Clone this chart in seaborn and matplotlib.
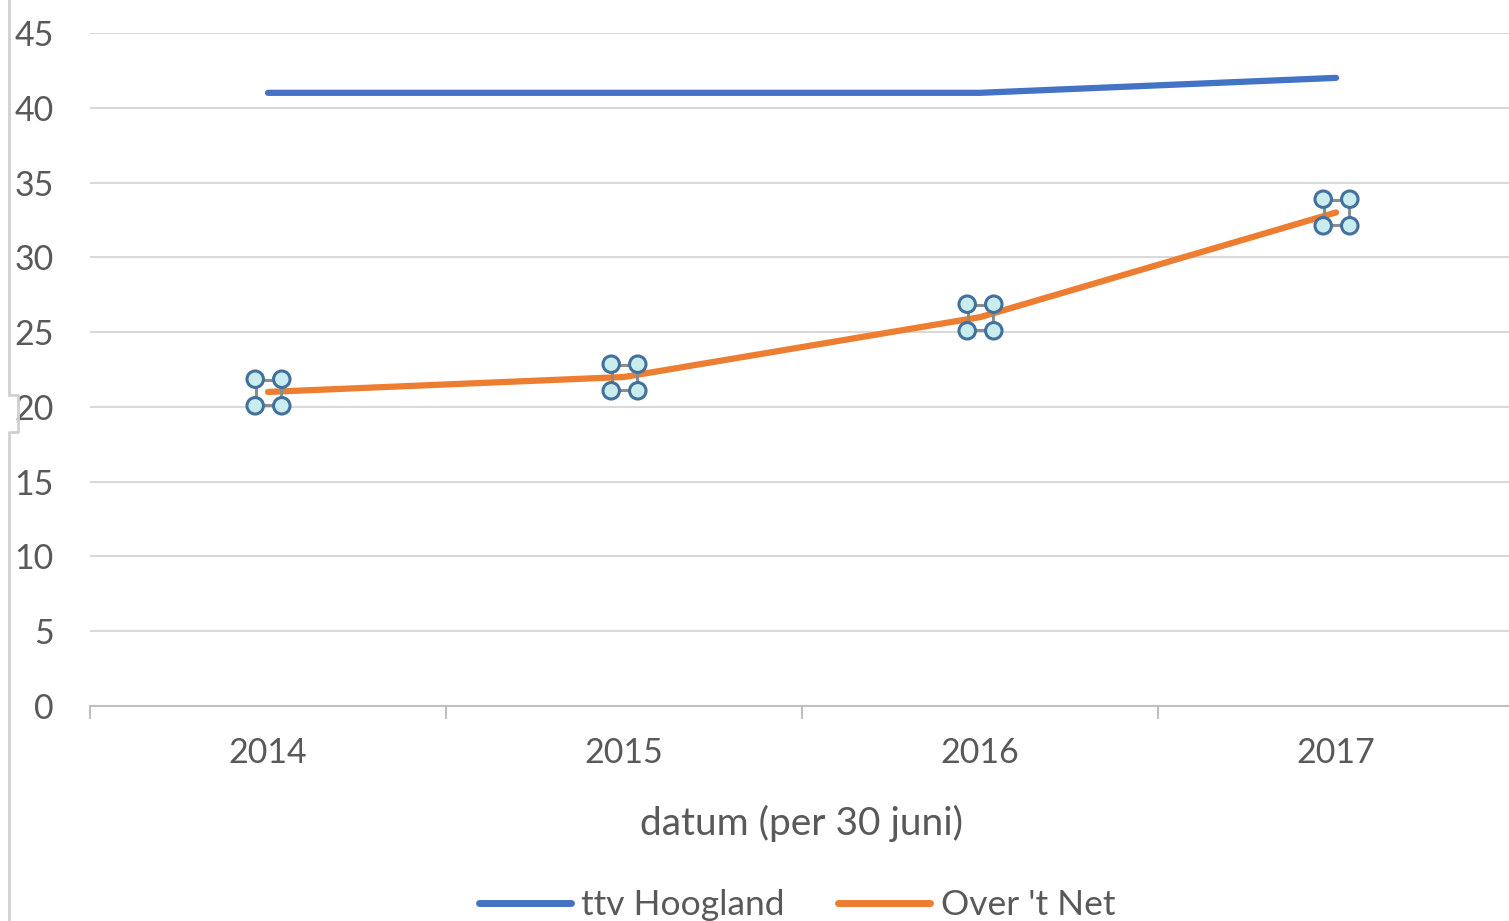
import matplotlib
matplotlib.use("Agg")
import matplotlib.pyplot as plt
from matplotlib.path import Path
from matplotlib.lines import Line2D
import seaborn as sns
import pandas as pd

# data
years = ["2014", "2015", "2016", "2017"]
ttv_hoogland = [41, 41, 41, 42]
over_t_net = [21, 22, 26, 33]

df = pd.DataFrame({"x": range(len(years)), "hoogland": ttv_hoogland, "net": over_t_net})

sns.set_style("white")
plt.rcParams["font.family"] = ["Lato", "DejaVu Sans"]
txt = "#595959"

fig = plt.figure(figsize=(15.09, 9.21), dpi=100)
ax = fig.add_axes([90 / 1509, 215 / 921, 1424 / 1509, 673 / 921])

sns.lineplot(data=df, x="x", y="hoogland", ax=ax, color="#4472C4", lw=4.5,
             label="ttv Hoogland", legend=False)
sns.lineplot(data=df, x="x", y="net", ax=ax, color="#ED7D31", lw=4.5,
             label="Over 't Net", legend=False)

# selection-handle style markers on the orange series
circles = [Path.circle((dx, dy), 0.62) for dx in (-1, 1) for dy in (-1, 1)]
handle = Path.make_compound_path(*circles)
ax.plot(df["x"], df["net"], ls="none", marker="s", ms=18, mfc="none",
        mec="#8c8c8c", mew=2.2, zorder=4)
ax.plot(df["x"], df["net"], ls="none", marker=handle, ms=31, mfc="#c9ecee",
        mec="#41719C", mew=2.2, zorder=5)

ax.set_ylim(0, 45)
ax.set_xlim(-0.5, 3.5)
ax.set_yticks(range(0, 46, 5))
ax.yaxis.grid(True, color="#d9d9d9", lw=1.5)
ax.set_axisbelow(True)

ax.set_xticks([-0.5, 0.5, 1.5, 2.5])
ax.set_xticklabels([])
ax.set_xticks(range(len(years)), minor=True)
ax.set_xticklabels(years, minor=True)
ax.tick_params(axis="x", which="major", direction="out", length=9, width=1.5,
               color="#bfbfbf", bottom=True)
ax.tick_params(axis="x", which="minor", length=0, pad=22, labelsize=24.5,
               labelcolor=txt)
ax.tick_params(axis="y", length=0, pad=26, labelsize=24.5, labelcolor=txt)

for s in ["top", "right", "left"]:
    ax.spines[s].set_visible(False)
ax.spines["bottom"].set_color("#bfbfbf")
ax.spines["bottom"].set_linewidth(1.5)

ax.set_xlabel("datum (per 30 juni)", fontsize=28, color=txt, labelpad=26)
ax.set_ylabel("")

# chart border remnant on the left
fig.add_artist(Line2D([9 / 1509, 9 / 1509], [1, 1 - 395 / 921],
                      transform=fig.transFigure, color="#d0d0d0", lw=2))
fig.add_artist(Line2D([9 / 1509, 18 / 1509, 18 / 1509, 9 / 1509, 9 / 1509],
                      [1 - 395 / 921, 1 - 395 / 921, 1 - 432 / 921,
                       1 - 432 / 921, 0],
                      transform=fig.transFigure, color="#d0d0d0", lw=2))

handles = [Line2D([], [], color="#4472C4", lw=5),
           Line2D([], [], color="#ED7D31", lw=5)]
fig.legend(handles, ["ttv Hoogland", "Over 't Net"], loc="center",
           bbox_to_anchor=(797 / 1509, 16 / 921), ncol=2, frameon=False,
           fontsize=25.5, labelcolor=txt, handlelength=2.6, handletextpad=0.3,
           columnspacing=1.5)

fig.savefig("out.png", dpi=100)
